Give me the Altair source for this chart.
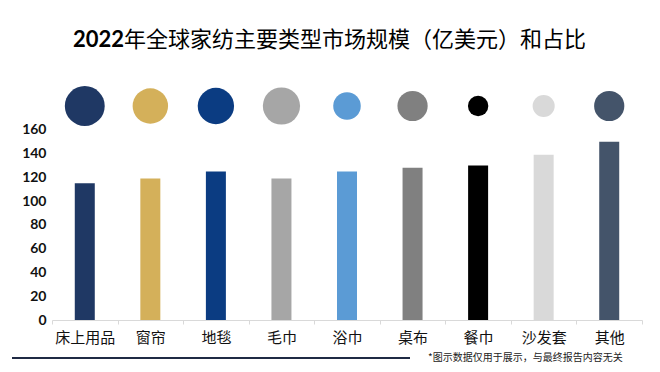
import altair as alt
import pandas as pd

categories = ["床上用品", "窗帘", "地毯", "毛巾", "浴巾", "桌布", "餐巾", "沙发套", "其他"]
market_size = [115, 119, 125, 119, 125, 128, 130, 139, 150]
share_pct = [17.6, 13.9, 14.6, 15.3, 8.4, 10.1, 4.6, 5.4, 10.1]
colors = ["#1F3864", "#D4B05A", "#0B3C82", "#A6A6A6", "#5B9BD5", "#808080", "#000000", "#D9D9D9", "#44546A"]
y_ticks = [0, 20, 40, 60, 80, 100, 120, 140, 160]

title_num = "2022"
title_rest = "年全球家纺主要类型市场规模（亿美元）和占比"
footnote = "*图示数据仅用于展示，与最终报告内容无关"

df = pd.DataFrame({"category": categories, "value": market_size,
                   "share": share_pct, "color": colors})

W, H = 590, 214
CJK = "Noto Sans CJK SC"

x_enc = alt.X("category:N", sort=categories, title=None,
              scale=alt.Scale(paddingInner=0, paddingOuter=0),
              axis=alt.Axis(labelAngle=0, labelFont=CJK, labelFontSize=15,
                            labelColor="#111111", labelPadding=6,
                            domainColor="#D9D9D9", tickColor="#D9D9D9",
                            tickBand="extent", tickSize=4, grid=False))

bars = alt.Chart(df).mark_bar(size=20).encode(
    x=x_enc,
    y=alt.Y("value:Q", title=None,
            scale=alt.Scale(domain=[0, 180], nice=False),
            axis=alt.Axis(values=y_ticks, labelFont="Lato", labelFontWeight="bold",
                          labelFontSize=14, labelColor="#111111", domain=False,
                          ticks=False, grid=False, labelPadding=6)),
    color=alt.Color("color:N", scale=None),
)

circles = alt.Chart(df).mark_circle(opacity=1).encode(
    x=alt.X("category:N", sort=categories),
    y=alt.value(0),
    size=alt.Size("share:Q", scale=alt.Scale(domain=[0, 20], range=[0, 1808]), legend=None),
    color=alt.Color("color:N", scale=None),
)

t1 = alt.Chart(pd.DataFrame({"t": [title_num]})).mark_text(
    font="Lato", fontWeight="bold", fontSize=22, align="right", baseline="middle",
    color="#000000").encode(text="t:N", x=alt.value(72), y=alt.value(-66))
t2 = alt.Chart(pd.DataFrame({"t": [title_rest]})).mark_text(
    font=CJK, fontSize=22, align="left", baseline="middle",
    color="#000000").encode(text="t:N", x=alt.value(72), y=alt.value(-66))

line = alt.Chart(pd.DataFrame({"a": [0]})).mark_rule(color="#1F2A44", strokeWidth=2).encode(
    x=alt.value(-40), x2=alt.value(358), y=alt.value(252))
note = alt.Chart(pd.DataFrame({"t": [footnote]})).mark_text(
    font=CJK, fontSize=10, align="left", baseline="middle", color="#222222").encode(
    text="t:N", x=alt.value(376), y=alt.value(252))

chart = alt.layer(bars, circles, t1, t2, line, note).properties(
    width=W, height=H,
    autosize=alt.AutoSizeParams(type="none"),
    padding={"left": 44, "top": 98, "right": 10, "bottom": 48},
    background="white",
).configure_view(stroke=None)

chart.save("out.html", embed_options={"renderer": "svg", "actions": False})
